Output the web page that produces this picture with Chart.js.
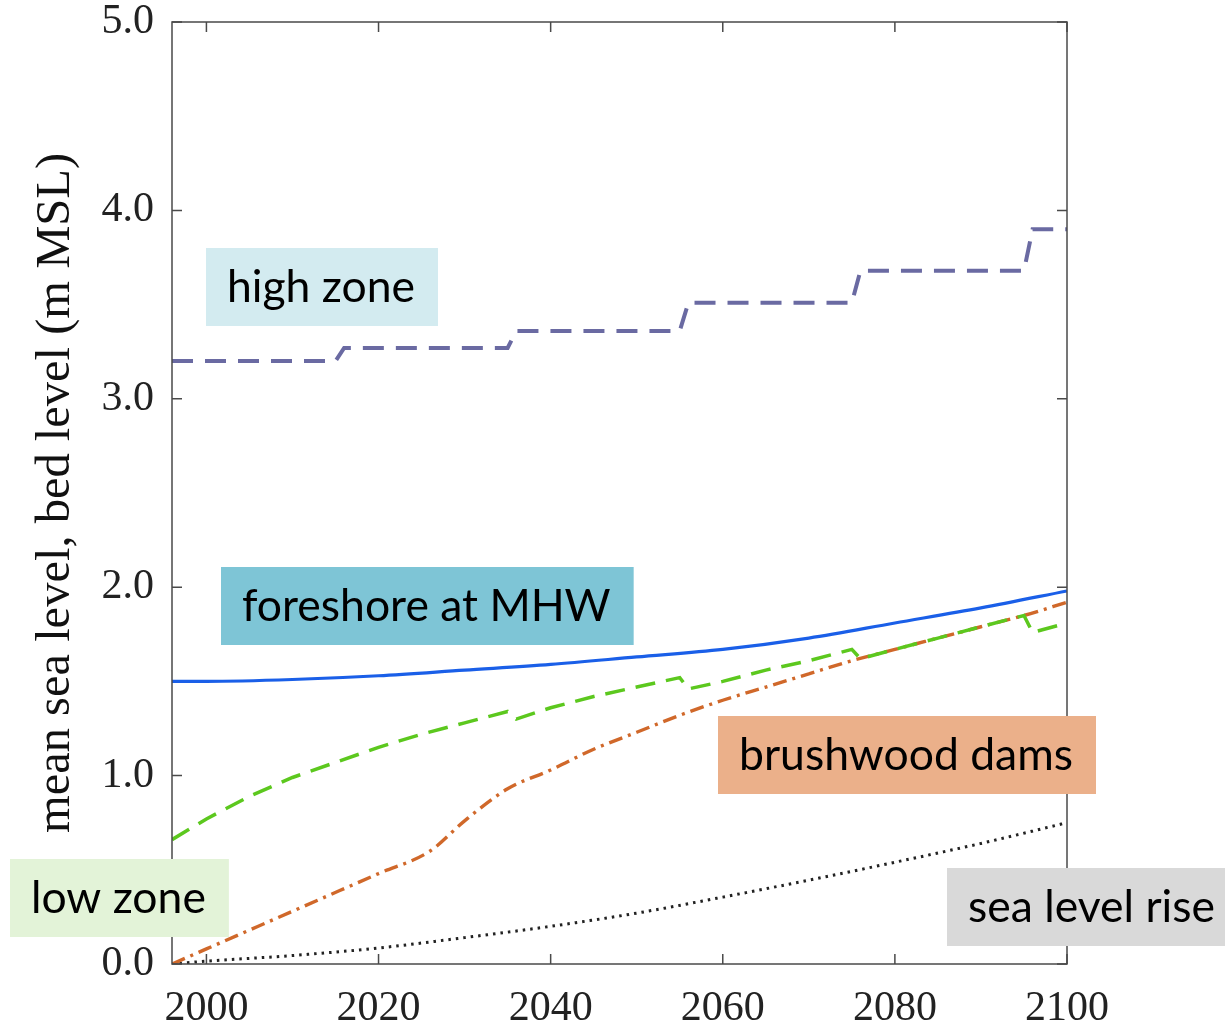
<!DOCTYPE html>
<html><head><meta charset="utf-8">
<script src="https://cdn.jsdelivr.net/npm/chart.js@4.4.0/dist/chart.umd.min.js"></script>
<style>html,body{margin:0;padding:0;background:#fff;} canvas{display:block;}</style>
</head><body>
<canvas id="c" width="1225" height="1025"></canvas>
<script>
// ---- data ----
const xTicks = [2000, 2020, 2040, 2060, 2080, 2100];
const yTicks = [0, 1, 2, 3, 4, 5];

const highZoneYears = [1996, 2015, 2016, 2035, 2036, 2055, 2056, 2075, 2076, 2095, 2096, 2100];
const highZoneLevel = [3.20, 3.20, 3.27, 3.27, 3.36, 3.36, 3.51, 3.51, 3.68, 3.68, 3.90, 3.90];

const foreshoreYears = [1996, 2000, 2010, 2020, 2030, 2040, 2050, 2060, 2070, 2080, 2090, 2100];
const foreshoreLevel = [1.50, 1.50, 1.51, 1.53, 1.56, 1.59, 1.63, 1.67, 1.73, 1.81, 1.89, 1.98];

const lowZoneYears = [1996, 2000, 2005, 2010, 2015, 2020, 2025, 2030, 2035, 2036, 2040, 2045, 2050, 2055, 2056, 2060, 2065, 2070, 2075, 2076, 2080, 2085, 2090, 2095, 2096, 2100];
const lowZoneLevel = [0.66, 0.77, 0.89, 0.99, 1.07, 1.15, 1.22, 1.28, 1.34, 1.30, 1.36, 1.42, 1.47, 1.52, 1.46, 1.50, 1.56, 1.61, 1.67, 1.62, 1.67, 1.73, 1.79, 1.85, 1.76, 1.81];

const brushwoodYears = [1996, 2000, 2010, 2020, 2026, 2030, 2035, 2040, 2045, 2050, 2055, 2060, 2065, 2070, 2075, 2080, 2085, 2090, 2095, 2100];
const brushwoodLevel = [0.00, 0.08, 0.28, 0.48, 0.60, 0.76, 0.93, 1.03, 1.14, 1.23, 1.32, 1.40, 1.47, 1.54, 1.61, 1.67, 1.73, 1.79, 1.85, 1.92];

const seaYears = [1996, 2000, 2010, 2020, 2030, 2040, 2050, 2060, 2070, 2080, 2090, 2100];
const seaLevel = [0.00, 0.015, 0.045, 0.085, 0.14, 0.20, 0.27, 0.355, 0.445, 0.54, 0.64, 0.75];

const yTitle = 'mean sea level, bed level (m MSL)';
const labelTexts = ['high zone', 'foreshore at MHW', 'brushwood dams', 'low zone', 'sea level rise'];

// ---- styling / layout ----
const labelStyles = [
  {fill: '#d3ebf0', left: 206, top: 248},
  {fill: '#7ec5d6', left: 221, top: 567},
  {fill: '#ebb08a', left: 718, top: 716},
  {fill: '#e3f3d8', left: 10,  top: 859},
  {fill: '#d9d9d9', left: 947, top: 868}
];
const serif = "'Liberation Serif', 'DejaVu Serif', serif";
const toPts = (xs, ys) => xs.map((x, i) => ({x: x, y: ys[i]}));

const framePlugin = {
  id: 'frame',
  afterDraw(chart) {
    const {ctx, chartArea: a, scales: {x, y}} = chart;
    ctx.save();
    ctx.strokeStyle = '#4a4a4a';
    ctx.lineWidth = 1.5;
    ctx.strokeRect(a.left, a.top, a.right - a.left, a.bottom - a.top);
    ctx.beginPath();
    x.ticks.forEach(t => {
      const px = x.getPixelForValue(t.value);
      ctx.moveTo(px, a.bottom); ctx.lineTo(px, a.bottom - 10);
      ctx.moveTo(px, a.top); ctx.lineTo(px, a.top + 10);
    });
    y.ticks.forEach(t => {
      const py = y.getPixelForValue(t.value);
      ctx.moveTo(a.left, py); ctx.lineTo(a.left + 10, py);
      ctx.moveTo(a.right, py); ctx.lineTo(a.right - 10, py);
    });
    ctx.stroke();

    // labels
    ctx.font = "100px Lato";
    const ref = ctx.measureText('brushwood dams').width;
    const size = 100 * 334 / ref;
    ctx.font = size.toFixed(2) + "px Lato";
    ctx.textBaseline = 'alphabetic';
    labelTexts.forEach((txt, i) => {
      const s = labelStyles[i];
      const w = ctx.measureText(txt).width;
      ctx.fillStyle = s.fill;
      ctx.fillRect(s.left, s.top, w + 44, 78);
      ctx.fillStyle = '#000';
      ctx.fillText(txt, s.left + 21, s.top + 54);
    });
    ctx.restore();
  }
};

new Chart(document.getElementById('c'), {
  type: 'line',
  data: {
    datasets: [
      {label: 'high zone', data: toPts(highZoneYears, highZoneLevel), borderColor: '#6a6aa2', borderWidth: 4, borderDash: [21, 12], tension: 0},
      {label: 'foreshore at MHW', data: toPts(foreshoreYears, foreshoreLevel), borderColor: '#1a5fe8', borderWidth: 3.2, cubicInterpolationMode: 'monotone'},
      {label: 'low zone', data: toPts(lowZoneYears, lowZoneLevel), borderColor: '#5cc81e', borderWidth: 3.5, borderDash: [20, 11], tension: 0},
      {label: 'brushwood dams', data: toPts(brushwoodYears, brushwoodLevel), borderColor: '#d0682a', borderWidth: 3.4, borderDash: [14, 6, 3, 6], cubicInterpolationMode: 'monotone'},
      {label: 'sea level rise', data: toPts(seaYears, seaLevel), borderColor: '#222', borderWidth: 3, borderDash: [2.5, 5], cubicInterpolationMode: 'monotone'}
    ]
  },
  options: {
    responsive: false,
    animation: false,
    events: [],
    layout: {padding: {top: 22, right: 158, left: 0, bottom: 0}},
    elements: {point: {radius: 0}, line: {borderCapStyle: 'butt', fill: false}},
    plugins: {legend: {display: false}, tooltip: {enabled: false}},
    scales: {
      x: {
        type: 'linear', min: 1996, max: 2100,
        afterBuildTicks: s => { s.ticks = xTicks.map(v => ({value: v})); },
        afterFit: s => { s.height = 61; s.paddingLeft = 0; s.paddingRight = 0; },
        grid: {display: false, drawTicks: false}, border: {display: false},
        ticks: {font: {family: serif, size: 42}, color: '#222', padding: 20, maxRotation: 0, autoSkip: false, callback: v => String(v)}
      },
      y: {
        type: 'linear', min: 0, max: 5,
        afterBuildTicks: s => { s.ticks = yTicks.map(v => ({value: v})); },
        afterFit: s => { s.width = 172; s.paddingTop = 0; s.paddingBottom = 0; },
        grid: {display: false, drawTicks: false}, border: {display: false},
        ticks: {font: {family: serif, size: 42, lineHeight: 1}, color: '#222', padding: 18, callback: v => Number(v).toFixed(1)},
        title: {display: true, text: yTitle, font: {family: serif, size: 48.5}, color: '#111', padding: {top: 27, bottom: 0}}
      }
    }
  },
  plugins: [framePlugin]
});
</script>
</body></html>
